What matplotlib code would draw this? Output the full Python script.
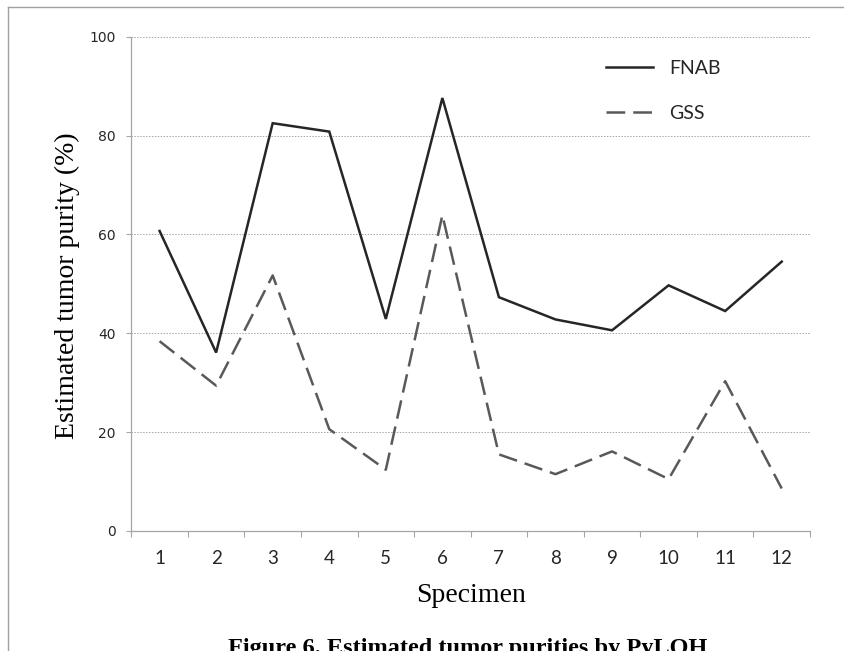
import matplotlib
matplotlib.use('Agg')
import matplotlib.pyplot as plt
from matplotlib.lines import Line2D

# values
specimens = ['1', '2', '3', '4', '5', '6', '7', '8', '9', '10', '11', '12']
fnab = [60.7, 36.1, 82.5, 80.8, 42.9, 87.6, 47.3, 42.8, 40.6, 49.7, 44.5, 54.5]
gss = [38.4, 29.4, 51.7, 20.6, 12.4, 63.9, 15.5, 11.5, 16.1, 10.5, 30.3, 8.6]
yticks = [0, 20, 40, 60, 80, 100]

W, H = 844, 651
fig = plt.figure(figsize=(W / 100, H / 100), dpi=100)
ax = fig.add_axes([131.3 / W, 1 - 531 / H, 678.7 / W, 494.3 / H])

x = list(range(len(specimens)))
ax.plot(x, fnab, color='#262626', lw=1.8, label='FNAB', solid_joinstyle='miter')
ax.plot(x, gss, color='#595959', lw=1.8, dashes=(7.5, 3.2), label='GSS')

ax.set_xlim(-0.5, len(specimens) - 0.5)
ax.set_ylim(0, 100)

# grid
ax.set_yticks(yticks)
ax.set_yticklabels([str(v) for v in yticks], fontfamily='DejaVu Sans', fontsize=10, color='#262626')
ax.yaxis.grid(True, color='#a6a6a6', lw=0.7, ls=(0, (1.5, 1.5)))
ax.set_axisbelow(True)

# x axis: labels at centres, tick marks between categories
ax.set_xticks(x)
ax.set_xticklabels(specimens, fontfamily='Lato', fontsize=13.5, color='#262626')
ax.set_xticks([i - 0.5 for i in range(len(specimens) + 1)], minor=True)
ax.tick_params(axis='x', which='major', length=0, pad=14)
ax.tick_params(axis='x', which='minor', length=4.5, width=0.8, color='#a6a6a6', direction='out')
ax.tick_params(axis='y', length=3.8, width=0.8, color='#a6a6a6', pad=7.5)

for s in ['top', 'right']:
    ax.spines[s].set_visible(False)
for s in ['left', 'bottom']:
    ax.spines[s].set_color('#a6a6a6')
    ax.spines[s].set_linewidth(0.9)

ax.set_xlabel('Specimen', fontfamily='Liberation Serif', fontsize=20)
ax.xaxis.set_label_coords(0.5, -0.105)
ax.set_ylabel('Estimated tumor purity (%)', fontfamily='Liberation Serif', fontsize=20)
ax.yaxis.label.set_va('center')
ax.yaxis.set_label_coords(-0.0947, 0.497)

leg = ax.legend(loc='upper left', bbox_to_anchor=(606 / W, 1 - 60 / H),
                bbox_transform=fig.transFigure, frameon=False,
                prop={'family': 'Lato', 'size': 14}, handlelength=2.4,
                handletextpad=0.85, labelspacing=1.45, borderpad=0, borderaxespad=0)
for t in leg.get_texts():
    t.set_color('#262626')

# caption below the chart, cut off by the bottom edge as in the source
fig.text(468 / W, 1 - 654 / H, 'Figure 6. Estimated tumor purities by PyLOH',
         fontfamily='Liberation Serif', fontweight='bold', fontsize=17.5,
         ha='center', va='baseline')

# page border lines
fig.add_artist(Line2D([8 / W, 1], [1 - 7 / H, 1 - 7 / H], color='#a0a0a0', lw=1))
fig.add_artist(Line2D([8 / W, 8 / W], [0, 1 - 7 / H], color='#a0a0a0', lw=1))

fig.savefig('out.png', dpi=100)
